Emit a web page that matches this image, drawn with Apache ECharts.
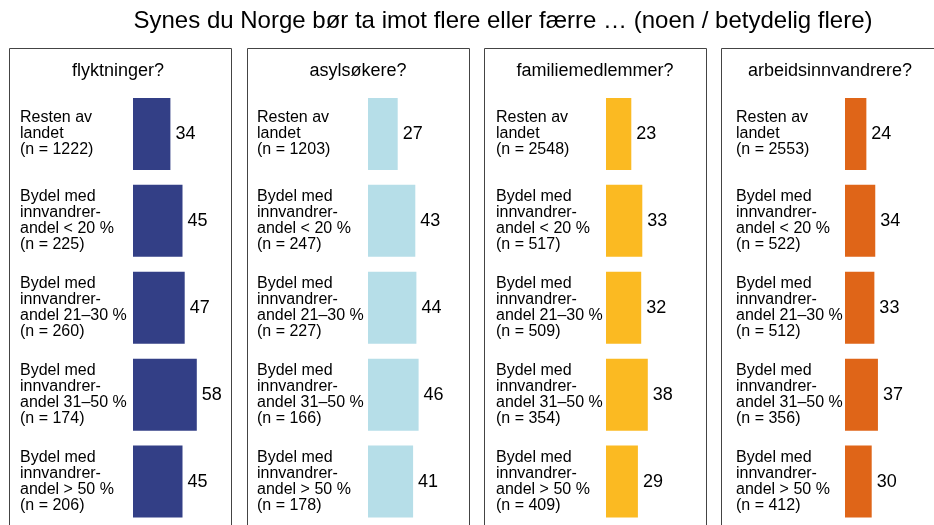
<!DOCTYPE html>
<html>
<head>
<meta charset="utf-8">
<script src="https://cdn.jsdelivr.net/npm/echarts@6/dist/echarts.min.js"></script>
<style>
  html, body { margin: 0; padding: 0; background: #fff; }
  #chart { width: 934px; height: 525px; }
</style>
</head>
<body>
<div id="chart"></div>
<script>
// Data
var title = 'Synes du Norge bør ta imot flere eller færre … (noen / betydelig flere)'
var panelTitles = ['flyktninger?', 'asylsøkere?', 'familiemedlemmer?', 'arbeidsinnvandrere?']
var groups = [
  'Resten av\nlandet',
  'Bydel med\ninnvandrer-\nandel < 20 %',
  'Bydel med\ninnvandrer-\nandel 21–30 %',
  'Bydel med\ninnvandrer-\nandel 31–50 %',
  'Bydel med\ninnvandrer-\nandel > 50 %'
]
var flyktninger = [34, 45, 47, 58, 45]
var asylsokere = [27, 43, 44, 46, 41]
var familiemedlemmer = [23, 33, 32, 38, 29]
var arbeidsinnvandrere = [24, 34, 33, 37, 30]
var nFlyktninger = [1222, 225, 260, 174, 206]
var nAsylsokere = [1203, 247, 227, 166, 178]
var nFamilie = [2548, 517, 509, 354, 409]
var nArbeid = [2553, 522, 512, 356, 412]

var values = [flyktninger, asylsokere, familiemedlemmer, arbeidsinnvandrere]
var counts = [nFlyktninger, nAsylsokere, nFamilie, nArbeid]
var colors = ['#333f86', '#b6dee8', '#fbba22', '#df6518']

// layout per panel (border x, bar start x, label x, subtitle center)
var borderX = [9, 247, 484, 721]
var barX = [133, 368, 606, 845]
var labelX = [20, 257, 496, 736]
var subX = [118, 358, 595, 830]

var font = 'Arial, "Liberation Sans", Helvetica, sans-serif'

var grids = [], xAxes = [], yAxes = [], series = [], graphics = []

values.forEach(function (vals, i) {
  var cats = groups.map(function (g, k) {
    return g + '\n(n = ' + counts[i][k] + ')'
  })
  grids.push({ left: barX[i], top: 90.5, width: 110, height: 435 })
  xAxes.push({
    gridIndex: i, type: 'value', min: 0, max: 100, show: false
  })
  yAxes.push({
    gridIndex: i, type: 'category', inverse: true, data: cats,
    axisLine: { show: false }, axisTick: { show: false },
    axisLabel: {
      align: 'left', margin: barX[i] - labelX[i],
      fontSize: 16, lineHeight: 16, color: '#000', fontFamily: font
    }
  })
  series.push({
    type: 'bar', xAxisIndex: i, yAxisIndex: i, data: vals,
    barWidth: 72,
    itemStyle: { color: colors[i] },
    label: {
      show: true, position: 'right', distance: 5,
      fontSize: 18, color: '#000', fontFamily: font
    },
    silent: true
  })
  graphics.push({
    type: 'rect',
    shape: { x: borderX[i] + 0.5, y: 48.5, width: 222, height: 500 },
    style: { fill: 'none', stroke: '#444', lineWidth: 1 }
  })
  graphics.push({
    type: 'text', x: subX[i], y: 71,
    style: {
      text: panelTitles[i], fontSize: 18, fontFamily: font, fill: '#000',
      textAlign: 'center', textVerticalAlign: 'middle'
    }
  })
})

graphics.push({
  type: 'text', x: 503, y: 21,
  style: {
    text: title, fontSize: 24, fontFamily: font, fill: '#000',
    textAlign: 'center', textVerticalAlign: 'middle'
  }
})

var myChart = echarts.init(document.getElementById('chart'))
myChart.setOption({
  animation: false,
  grid: grids,
  xAxis: xAxes,
  yAxis: yAxes,
  series: series,
  graphic: graphics
})
</script>
</body>
</html>
